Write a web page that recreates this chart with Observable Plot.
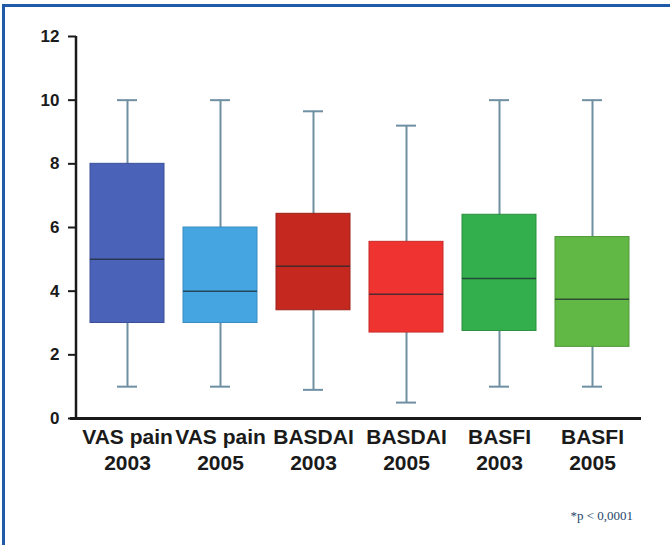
<!DOCTYPE html>
<html>
<head>
<meta charset="utf-8">
<script src="https://cdn.jsdelivr.net/npm/d3@7"></script>
<script src="https://cdn.jsdelivr.net/npm/@observablehq/plot@0.6"></script>
<style>
  html, body { margin: 0; padding: 0; background: #fff; width: 670px; height: 545px; overflow: hidden; }
  #wrap { position: relative; width: 670px; height: 545px; }
  #frame { position: absolute; left: 2px; top: 4px; width: 700px; height: 600px;
           border-top: 3px solid #1f5ba8; border-left: 3px solid #1f5ba8; pointer-events: none; }
  #chart { position: absolute; left: 0; top: 0; }
  #note { position: absolute; right: 37px; top: 508px; font: 13px "Liberation Serif", "DejaVu Serif", serif; color: #27466a; }
</style>
</head>
<body>
<div id="wrap">
  <div id="chart"></div>
  <div id="frame"></div>
  <div id="note">*p &lt; 0,0001</div>
</div>
<script>
const categories = ["VAS pain\n2003", "VAS pain\n2005", "BASDAI\n2003", "BASDAI\n2005", "BASFI\n2003", "BASFI\n2005"];
const whiskerLow  = [1.0, 1.0, 0.9, 0.5, 1.0, 1.0];
const quartile1   = [3.0, 3.0, 3.4, 2.7, 2.75, 2.25];
const medians     = [5.0, 4.0, 4.78, 3.9, 4.4, 3.75];
const quartile3   = [8.0, 6.0, 6.43, 5.55, 6.4, 5.7];
const whiskerHigh = [10.0, 10.0, 9.65, 9.2, 10.0, 10.0];
const fills   = ["#4a62b8", "#44a5e0", "#c4281f", "#ee3330", "#34af4d", "#62b845"];
const strokes = ["#3a4f98", "#3a8cc0", "#9a2018", "#c82a26", "#2a8f3f", "#4f9838"];
const yTicks = [0, 2, 4, 6, 8, 10, 12];

const data = categories.map((c, i) => ({
  cat: c, lo: whiskerLow[i], q1: quartile1[i], med: medians[i], q3: quartile3[i], hi: whiskerHigh[i],
  fill: fills[i], stroke: strokes[i]
}));

// vertical y-axis line along the left edge of the frame, from y=0 to y=12
function yAxisLine(index, scales, values, dims) {
  const x = dims.marginLeft - 2;
  const g = d3.create("svg:g");
  g.append("line")
    .attr("x1", x).attr("x2", x)
    .attr("y1", scales.y(yTicks[yTicks.length - 1]))
    .attr("y2", scales.y(yTicks[0]))
    .attr("stroke", "#1a1a1a").attr("stroke-width", 2.5);
  return g.node();
}

const chart = Plot.plot({
  width: 670,
  height: 545,
  marginLeft: 78,
  marginRight: 29,
  marginTop: 36,
  marginBottom: 127,
  style: { background: "transparent", fontFamily: "'Liberation Sans', Arial, sans-serif" },
  x: { domain: categories, paddingInner: 0.2, paddingOuter: 0.1, label: null },
  y: { domain: [0, 12], label: null },
  marks: [
    Plot.ruleX(data, { x: "cat", y1: "lo", y2: "hi", stroke: "#6f8fa2", strokeWidth: 2 }),
    Plot.tickY(data, { x: "cat", y: "lo", stroke: "#6f8fa2", strokeWidth: 2, insetLeft: 27, insetRight: 27 }),
    Plot.tickY(data, { x: "cat", y: "hi", stroke: "#6f8fa2", strokeWidth: 2, insetLeft: 27, insetRight: 27 }),
    Plot.barY(data, { x: "cat", y1: "q1", y2: "q3", fill: "fill", stroke: "stroke", strokeWidth: 1 }),
    Plot.tickY(data, { x: "cat", y: "med", stroke: "#1e2a30", strokeOpacity: 0.75, strokeWidth: 1.5 }),
    Plot.axisY({ ticks: yTicks, tickFormat: d => String(d), tickSize: 8, tickPadding: 9, fontSize: 17, fontWeight: "bold", color: "#1a1a1a", stroke: "#1a1a1a", strokeWidth: 2, label: null, dx: -2 }),
    Plot.axisX({ tickSize: 0, tickPadding: 8, fontSize: 21, fontWeight: "bold", lineHeight: 1.2, color: "#1a1a1a", label: null }),
    yAxisLine,
    Plot.ruleY([0], { stroke: "#1a1a1a", strokeWidth: 3, insetLeft: -8 })
  ]
});
document.getElementById("chart").appendChild(chart);
</script>
</body>
</html>
